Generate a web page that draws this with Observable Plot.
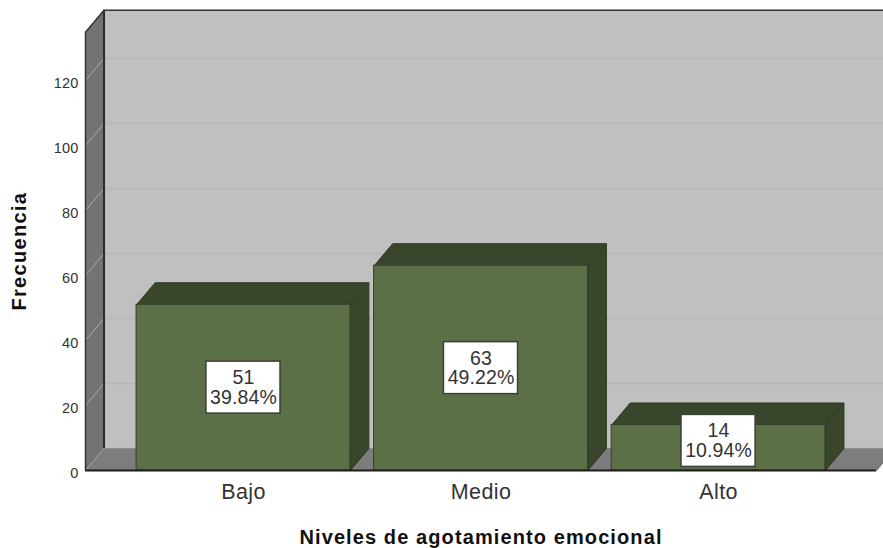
<!DOCTYPE html>
<html>
<head>
<meta charset="utf-8">
<script src="https://cdn.jsdelivr.net/npm/d3@7"></script>
<script src="https://cdn.jsdelivr.net/npm/@observablehq/plot@0.6"></script>
<style>
html,body{margin:0;padding:0;background:#fff;overflow:hidden}
svg{overflow:hidden}
.sp-title text{letter-spacing:1.1px}
.sp-ytitle text{letter-spacing:1.3px}
.sp-box text{letter-spacing:0.1px}
.sp-cat text{letter-spacing:0.4px}
.sp-tick text{letter-spacing:0.2px}
</style>
</head>
<body>
<div id="chart"></div>
<script>
const categories = ["Bajo", "Medio", "Alto"];
const counts = [51, 63, 14];
const percents = ["39.84%", "49.22%", "10.94%"];
const yTicks = [0, 20, 40, 60, 80, 100, 120];
const xTitle = "Niveles de agotamiento emocional";
const yTitle = "Frecuencia";

// depth of the pseudo-3D box, in scale units
const dx = 0.078, dy = 6.77;
const yTop = 134.8, xL = -0.665, xR = 2.665;
const halfBar = 0.45;
const boxHalfW = 0.156, boxHalfH = 8;

let pid = 0;
const poly = (pts) => { const id = pid++; return [...pts, pts[0]].map(([x, y]) => ({x, y, id})); };
const polyMark = (polys, fill, stroke = fill, strokeWidth = 1) =>
  Plot.line(polys.flat(), {x: "x", y: "y", z: "id", fill, stroke, strokeWidth, curve: "linear"});

const backWall = poly([[xL + dx, dy], [xR + dx, dy], [xR + dx, yTop + dy], [xL + dx, yTop + dy]]);
const leftWall = poly([[xL, 0], [xL + dx, dy], [xL + dx, yTop + dy], [xL, yTop]]);
const floor = poly([[xL, 0], [xR, 0], [xR + dx, dy], [xL + dx, dy]]);

const bars = counts.map((v, i) => ({i, v, x1: i - halfBar, x2: i + halfBar}));
const tops = bars.map(b => poly([[b.x1, b.v], [b.x2, b.v], [b.x2 + dx, b.v + dy], [b.x1 + dx, b.v + dy]]));
const sides = bars.map(b => poly([[b.x2, 0], [b.x2 + dx, dy], [b.x2 + dx, b.v + dy], [b.x2, b.v]]));
const labels = bars.map(b => ({i: b.i, y: Math.max(b.v / 2, boxHalfH + 1.1), text: `${b.v}\n${percents[b.i]}`}));
const grid = yTicks.filter(t => t > 0);

const plot = Plot.plot({
  width: 883, height: 548,
  marginLeft: 85, marginRight: 7, marginTop: 0, marginBottom: 78,
  style: {fontFamily: "Liberation Sans, Arial, sans-serif", background: "#fff", color: "#222"},
  x: {domain: [xL, xR], range: [85, 876], axis: null},
  y: {domain: [0, 144.6], range: [470, 0], axis: null},
  marks: [
    polyMark([backWall], "#c0c0c0"),
    Plot.ruleY(grid, {y: d => d + dy, x1: xL + dx, x2: xR + dx, stroke: "#b7b7b7", strokeWidth: 2}),
    polyMark([leftWall], "#737373"),
    Plot.link(grid, {x1: xL, x2: xL + dx, y1: d => d, y2: d => d + dy, stroke: "#ababab", strokeWidth: 1}),
    polyMark([floor], "#7d7d7d", "#6a6a6a"),
    Plot.link([0], {x1: xL, x2: xL + dx, y1: 0, y2: dy, stroke: "#ababab", strokeWidth: 1}),
    Plot.ruleX([xL + dx], {y1: dy, y2: yTop + dy, stroke: "#2b2b2b", strokeWidth: 2}),
    Plot.ruleX([xL], {y1: 0, y2: yTop, stroke: "#333", strokeWidth: 1.5}),
    Plot.link([0], {x1: xL, x2: xL + dx, y1: yTop, y2: yTop + dy, stroke: "#333", strokeWidth: 1.5}),
    Plot.ruleY([yTop + dy], {x1: xL + dx, x2: xR + dx, stroke: "#333", strokeWidth: 1.5}),
    Plot.ruleY([dy], {x1: xL + dx, x2: xR + dx, stroke: "#8f8f8f", strokeWidth: 1}),
    polyMark(sides, "#3a462c", "#2f3a24"),
    polyMark(tops, "#3a462c", "#2f3a24"),
    Plot.rect(bars, {x1: "x1", x2: "x2", y1: 0, y2: "v", fill: "#5c7047", stroke: "#33402a", strokeWidth: 1}),
    Plot.ruleY([0], {x1: xL, x2: xR, stroke: "#1c1c1c", strokeWidth: 2}),
    Plot.rect(labels, {x1: d => d.i - boxHalfW, x2: d => d.i + boxHalfW, y1: d => d.y - boxHalfH, y2: d => d.y + boxHalfH,
      fill: "#fff", stroke: "#3a3f35", strokeWidth: 1.5}),
    Plot.text(labels, {x: "i", y: "y", text: "text", fontSize: 19.5, lineHeight: 1.02, fill: "#333", className: "sp-box"}),
    Plot.axisY({ticks: yTicks, tickSize: 0, tickPadding: 7, fontSize: 14.5, label: null, anchor: "left", dy: 2.5, fill: "#333", className: "sp-tick"}),
    Plot.axisX({ticks: [0, 1, 2], tickFormat: i => categories[i], tickSize: 0, tickPadding: 13, fontSize: 21.5, label: null, anchor: "bottom", fill: "#333", className: "sp-cat"}),
    Plot.text([xTitle], {frameAnchor: "bottom", dy: 73, text: d => d, fontSize: 20, fontWeight: "bold", fill: "#111", className: "sp-title"}),
    Plot.text([yTitle], {frameAnchor: "left", dx: -66, dy: 75, rotate: -90, text: d => d, fontSize: 20, fontWeight: "bold", fill: "#111", className: "sp-ytitle"})
  ]
});
document.getElementById("chart").append(plot);
</script>
</body>
</html>
